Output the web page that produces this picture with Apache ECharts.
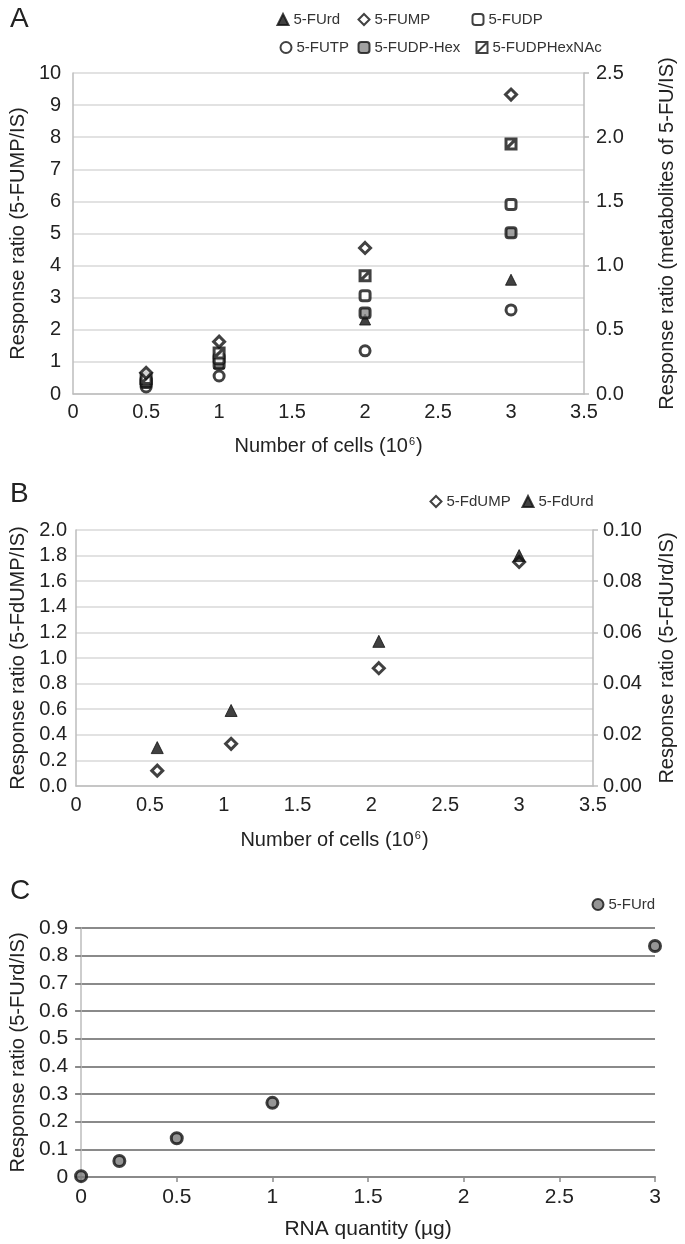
<!DOCTYPE html>
<html>
<head>
<meta charset="utf-8">
<script src="https://cdn.jsdelivr.net/npm/echarts@6/dist/echarts.min.js"></script>
<style>
html,body{margin:0;padding:0;background:#fff;}
#c{width:685px;height:1244px;}
</style>
</head>
<body>
<div id="c"></div>
<script>
// ---- Panel A data (x = number of cells, 10^6) ----
const aX = [0.5, 1, 2, 3];
const aFUMP = [0.66, 1.63, 4.55, 9.33];          // left axis (5-FUMP/IS)
const aFUrd = [0.15, 0.24, 0.58, 0.89];          // right axis (metabolites of 5-FU/IS)
const aFUDP = [0.10, 0.275, 0.765, 1.475];
const aFUTP = [0.055, 0.14, 0.336, 0.655];
const aFUDPHex = [0.09, 0.235, 0.63, 1.255];
const aFUDPHexNAc = [0.12, 0.32, 0.92, 1.948];
const aXTicks = ['0', '0.5', '1', '1.5', '2', '2.5', '3', '3.5'];

// ---- Panel B data ----
const bX = [0.55, 1.05, 2.05, 3.0];
const bFdUMP = [0.12, 0.33, 0.92, 1.75];          // left axis
const bFdUrd = [0.015, 0.0295, 0.0565, 0.090];    // right axis

// ---- Panel C data (x = RNA quantity, µg) ----
const cX = [0, 0.2, 0.5, 1, 3];
const cFUrd = [0.003, 0.058, 0.14, 0.268, 0.835];

const pairs = (xs, ys) => xs.map((x, i) => [x, ys[i]]);

const FONT = 'Liberation Sans, Arial, Helvetica, sans-serif';
const TXT = '#222';
const GRID_A = '#d8d8d8';
const AXIS_A = '#bdbdbd';

const slashSquare = 'path://M1,1L11,1L11,11L1,11Z M1,11L11,1';

function legend(name, cx, cy, iw) {
  iw = iw || 11;
  return {
    data: [name], left: cx - iw / 2, top: cy - 8, itemWidth: iw, itemHeight: 11, itemGap: 5,
    textStyle: { fontFamily: FONT, fontSize: 15, color: '#333' }, selectedMode: false
  };
}

const yLeftName = (t, gap) => ({
  name: t, nameLocation: 'middle', nameGap: gap, nameRotate: 90,
  nameTextStyle: { fontFamily: FONT, fontSize: 20, color: TXT }
});

const tickLbl = (extra) => Object.assign({ fontFamily: FONT, fontSize: 20, color: TXT }, extra || {});

const option = {
  animation: false,
  backgroundColor: '#fff',
  title: [
    { text: 'A', left: 5, top: 0, textStyle: { fontFamily: FONT, fontSize: 28, fontWeight: 'normal', color: TXT } },
    { text: 'B', left: 5, top: 475, textStyle: { fontFamily: FONT, fontSize: 28, fontWeight: 'normal', color: TXT } },
    { text: 'C', left: 5, top: 872, textStyle: { fontFamily: FONT, fontSize: 28, fontWeight: 'normal', color: TXT } }
  ],
  legend: [
    legend('5-FUrd', 277, 15),
    legend('5-FUMP', 358, 15),
    legend('5-FUDP', 472, 15),
    legend('5-FUTP', 280, 43),
    legend('5-FUDP-Hex', 358, 43),
    legend('5-FUDPHexNAc', 476, 43),
    legend('5-FdUMP', 430, 497),
    legend('5-FdUrd', 522, 497),
    legend('5-FUrd ', 592, 900)
  ],
  grid: [
    { left: 62, right: 90, top: 73, height: 321 },
    { left: 72, right: 83, top: 530, height: 256 },
    { left: 78, right: 30, top: 928, height: 249 }
  ],
  xAxis: [
    {
      gridIndex: 0, type: 'value', min: 0, max: 3.5, interval: 0.5,
      name: 'Number of cells (10{sup|6})', nameLocation: 'middle', nameGap: 42,
      nameTextStyle: { fontFamily: FONT, fontSize: 20, color: TXT, rich: { sup: { fontFamily: FONT, fontSize: 11, color: TXT, verticalAlign: 'top', padding: [0, 1, 10, 1] } } },
      axisLine: { lineStyle: { color: AXIS_A, width: 1.5 } }, axisTick: { show: false },
      splitLine: { show: false },
      axisLabel: tickLbl({ margin: 8, formatter: v => aXTicks[Math.round(v * 2)] })
    },
    {
      gridIndex: 1, type: 'value', min: 0, max: 3.5, interval: 0.5,
      name: 'Number of cells (10{sup|6})', nameLocation: 'middle', nameGap: 44,
      nameTextStyle: { fontFamily: FONT, fontSize: 20, color: TXT, rich: { sup: { fontFamily: FONT, fontSize: 11, color: TXT, verticalAlign: 'top', padding: [0, 1, 10, 1] } } },
      axisLine: { lineStyle: { color: AXIS_A, width: 1.5 } }, axisTick: { show: false },
      splitLine: { show: false },
      axisLabel: tickLbl({ margin: 9, formatter: v => aXTicks[Math.round(v * 2)] })
    },
    {
      gridIndex: 2, type: 'value', min: 0, max: 3, interval: 0.5,
      name: 'RNA quantity (µg)', nameLocation: 'middle', nameGap: 42,
      nameTextStyle: { fontFamily: FONT, fontSize: 21, color: TXT },
      axisLine: { lineStyle: { color: '#8a8a8a', width: 2 } },
      axisTick: { show: true, length: 5, lineStyle: { color: '#8a8a8a', width: 1.5 } },
      splitLine: { show: false },
      axisLabel: tickLbl({ fontSize: 21, margin: 10, formatter: v => String(v) })
    }
  ],
  yAxis: [
    Object.assign({
      gridIndex: 0, type: 'value', min: 0, max: 10, interval: 1,
      axisLine: { show: true, lineStyle: { color: AXIS_A, width: 1.5 } }, axisTick: { show: false },
      splitLine: { lineStyle: { color: GRID_A, width: 1.5 } },
      axisLabel: tickLbl({ margin: 12 })
    }, yLeftName('Response ratio (5-FUMP/IS)', 39)),
    Object.assign({
      gridIndex: 0, type: 'value', min: 0, max: 2.5, interval: 0.5, position: 'right',
      axisLine: { show: true, lineStyle: { color: AXIS_A, width: 1.5 } },
      axisTick: { show: true, length: 5, lineStyle: { color: AXIS_A, width: 1.5 } },
      splitLine: { show: false },
      axisLabel: tickLbl({ margin: 12, formatter: v => v.toFixed(1) })
    }, yLeftName('Response ratio (metabolites of 5-FU/IS)', 73)),
    Object.assign({
      gridIndex: 1, type: 'value', min: 0, max: 2, interval: 0.2,
      axisLine: { show: true, lineStyle: { color: AXIS_A, width: 1.5 } }, axisTick: { show: false },
      splitLine: { lineStyle: { color: GRID_A, width: 1.5 } },
      axisLabel: tickLbl({ margin: 9, formatter: v => v.toFixed(1) })
    }, yLeftName('Response ratio (5-FdUMP/IS)', 48)),
    Object.assign({
      gridIndex: 1, type: 'value', min: 0, max: 0.1, interval: 0.02, position: 'right',
      axisLine: { show: true, lineStyle: { color: AXIS_A, width: 1.5 } },
      axisTick: { show: true, length: 5, lineStyle: { color: AXIS_A, width: 1.5 } },
      splitLine: { show: false },
      axisLabel: tickLbl({ margin: 10, formatter: v => v.toFixed(2) })
    }, yLeftName('Response ratio (5-FdUrd/IS)', 64)),
    Object.assign({
      gridIndex: 2, type: 'value', min: 0, max: 0.9, interval: 0.1,
      axisLine: { show: true, lineStyle: { color: '#bdbdbd', width: 1.5 } },
      axisTick: { show: true, length: 6, lineStyle: { color: '#8a8a8a', width: 2 } },
      splitLine: { lineStyle: { color: '#8a8a8a', width: 2 } },
      axisLabel: tickLbl({ fontSize: 21, margin: 13, formatter: v => String(Math.round(v * 10) / 10) })
    }, yLeftName('Response ratio (5-FUrd/IS)', 50))
  ],
  series: [
    { name: '5-FUrd', type: 'scatter', xAxisIndex: 0, yAxisIndex: 1, data: pairs(aX, aFUrd),
      symbol: 'triangle', symbolSize: 11, itemStyle: { color: '#111', borderColor: '#111', borderWidth: 1 } },
    { name: '5-FUTP', type: 'scatter', xAxisIndex: 0, yAxisIndex: 1, data: pairs(aX, aFUTP),
      symbol: 'circle', symbolSize: 10, itemStyle: { color: '#fff', borderColor: '#111', borderWidth: 3 } },
    { name: '5-FUDP-Hex', type: 'scatter', xAxisIndex: 0, yAxisIndex: 1, data: pairs(aX, aFUDPHex),
      symbol: 'roundRect', symbolSize: 10, itemStyle: { color: '#8a8a8a', borderColor: '#111', borderWidth: 3 } },
    { name: '5-FUDP', type: 'scatter', xAxisIndex: 0, yAxisIndex: 1, data: pairs(aX, aFUDP),
      symbol: 'roundRect', symbolSize: 10, itemStyle: { color: '#fff', borderColor: '#111', borderWidth: 3 } },
    { name: '5-FUDPHexNAc', type: 'scatter', xAxisIndex: 0, yAxisIndex: 1, data: pairs(aX, aFUDPHexNAc),
      symbol: slashSquare, symbolSize: 10, itemStyle: { color: '#fff', borderColor: '#111', borderWidth: 3 } },
    { name: '5-FUMP', type: 'scatter', xAxisIndex: 0, yAxisIndex: 0, data: pairs(aX, aFUMP),
      symbol: 'diamond', symbolSize: 11, itemStyle: { color: '#fff', borderColor: '#111', borderWidth: 3 } },

    { name: '5-FdUMP', type: 'scatter', xAxisIndex: 1, yAxisIndex: 2, data: pairs(bX, bFdUMP),
      symbol: 'diamond', symbolSize: 11, itemStyle: { color: '#fff', borderColor: '#111', borderWidth: 3 } },
    { name: '5-FdUrd', type: 'scatter', xAxisIndex: 1, yAxisIndex: 3, data: pairs(bX, bFdUrd),
      symbol: 'triangle', symbolSize: 12, itemStyle: { color: '#111', borderColor: '#111', borderWidth: 1 } },

    { name: '5-FUrd ', type: 'scatter', xAxisIndex: 2, yAxisIndex: 4, data: pairs(cX, cFUrd),
      symbol: 'circle', symbolSize: 11, itemStyle: { color: '#7a7a7a', borderColor: '#111', borderWidth: 3 } }
  ]
};

const chart = echarts.init(document.getElementById('c'), null, { renderer: 'canvas' });
chart.setOption(option);
</script>
</body>
</html>
